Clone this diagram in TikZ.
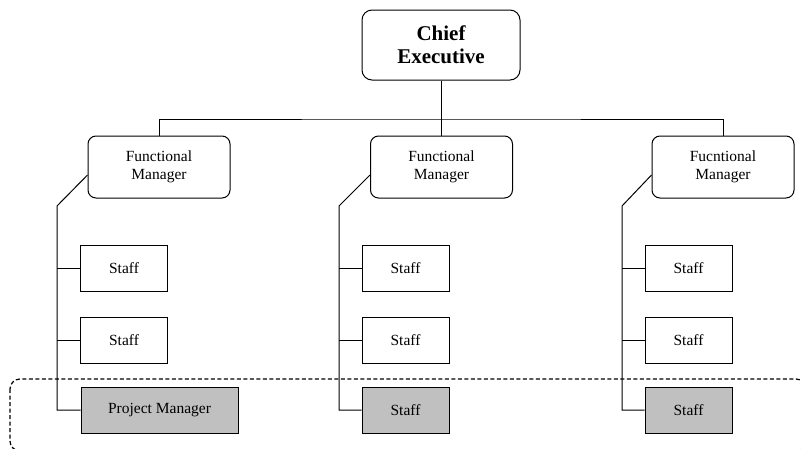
\documentclass[tikz,border=0pt]{standalone}
\usepackage{fontspec}
\setmainfont{Liberation Serif}
\usepackage{tikz}
\usetikzlibrary{positioning}
\usetikzlibrary{calc}
\definecolor{mygray}{RGB}{192, 192, 192}

\begin{document}
\begin{tikzpicture}[
            x=1pt, y=-1pt,
            line width=1pt,
            headbox/.style={
                rectangle,
                rounded corners=10pt,
                draw=black,
                align=center,
                minimum width=158pt,
                minimum height=70pt,
                font=\fontsize{21}{23}\selectfont\bfseries
            },
            fmbox/.style={
                rectangle,
                rounded corners=8pt,
                draw=black,
                align=center,
                minimum width=142pt,
                minimum height=62pt,
                font=\fontsize{15.5}{18}\selectfont
            },
            staffbox/.style={
                rectangle,
                draw=black,
                fill=#1,
                align=center,
                minimum width=87pt,
                minimum height=46pt,
                font=\fontsize{15.5}{18}\selectfont
            },
            staffbox/.default=white,
            team/.style={dash pattern=on 4pt off 2.5pt, line width=1.2pt, rounded corners=10pt}
        ]
            \useasboundingbox (0,0) rectangle (801,448);

            % Nodes
            \node[headbox] (chief) at (441,45) {Chief\\Executive};

            \node[fmbox] (fml) at (159,167) {Functional\\Manager};
            \node[fmbox] (fmm) at (441.5,167) {Functional\\Manager};
            \node[fmbox] (fmr) at (723,167) {Fucntional\\Manager};

            \node[staffbox] (sl1) at (124,268.5) {Staff};
            \node[staffbox] (sl2) at (124,340) {Staff};
            \node[staffbox=mygray, minimum width=157pt] (pm) at (159.5,410) {Project Manager};

            \node[staffbox] (sm1) at (405.5,268.5) {Staff};
            \node[staffbox] (sm2) at (405.5,340) {Staff};
            \node[staffbox=mygray] (sm3) at (405.5,410) {Staff};

            \node[staffbox] (sr1) at (688.5,268.5) {Staff};
            \node[staffbox] (sr2) at (688.5,340) {Staff};
            \node[staffbox=mygray] (sr3) at (688.5,410) {Staff};

            \coordinate (bar) at (441,119);
            \coordinate (spl) at (57,206);
            \coordinate (spm) at (339,206);
            \coordinate (spr) at (622,206);

            % Lines
            \draw (chief.south) -- (bar);
            \draw (fml.north) |- (bar) -| (fmr.north);
            \draw (fmm.north) -- (fmm.north |- bar);

            \draw ([yshift=-8pt]fml.west) -- (spl) |- (pm.west);
            \draw (spl |- sl1) -- (sl1.west);
            \draw (spl |- sl2) -- (sl2.west);

            \draw ([yshift=-8pt]fmm.west) -- (spm) |- (sm3.west);
            \draw (spm |- sm1) -- (sm1.west);
            \draw (spm |- sm2) -- (sm2.west);

            \draw ([yshift=-8pt]fmr.west) -- (spr) |- (sr3.west);
            \draw (spr |- sr1) -- (sr1.west);
            \draw (spr |- sr2) -- (sr2.west);

            % Project team
            \draw[team] (10,379) rectangle (806,451);
        \end{tikzpicture}
\end{document}
